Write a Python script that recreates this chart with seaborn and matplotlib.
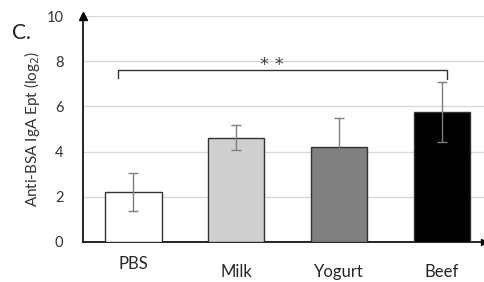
import matplotlib.pyplot as plt
import matplotlib.transforms as mtransforms
import seaborn as sns

groups = ["PBS", "Milk", "Yogurt", "Beef"]
means = [2.2, 4.62, 4.2, 5.77]
sds = [0.85, 0.55, 1.3, 1.33]
bar_colors = ["#ffffff", "#d0cfd0", "#808080", "#000000"]

sns.set_theme(style="white")
plt.rcParams["font.family"] = ["Lato", "DejaVu Sans"]

fig = plt.figure(figsize=(4.85, 2.82), dpi=100)
ax = fig.add_axes([0.171, 0.142, 0.827, 0.801])

sns.barplot(x=groups, y=means, hue=groups, palette=bar_colors, legend=False,
            width=0.55, edgecolor="#333333", linewidth=1.0, ax=ax, zorder=3)
ax.errorbar(range(len(groups)), means, yerr=sds, fmt="none", ecolor="#7f7f7f",
            elinewidth=1.0, capsize=3.5, capthick=1.0, zorder=4)

ax.set_ylim(0, 10)
ax.set_xlim(-0.49, 3.41)
ax.set_yticks([0, 2, 4, 6, 8, 10])
ax.yaxis.grid(True, color="#d9d9d9", linewidth=1.0, zorder=0)
ax.set_axisbelow(True)
ax.tick_params(axis="both", length=0)
ax.tick_params(axis="y", labelsize=10.5, pad=14, colors="#333333")
ax.tick_params(axis="x", labelsize=12, pad=16)
ax.set_xlabel("")
ax.set_ylabel("Anti-BSA IgA Ept (log$_2$)", fontsize=11, color="#333333", labelpad=3)

# PBS label sits a bit higher than the others
pbs = ax.get_xticklabels()[0]
pbs.set_transform(pbs.get_transform() + mtransforms.ScaledTranslation(0, 6 / 72, fig.dpi_scale_trans))

for s in ["top", "right"]:
    ax.spines[s].set_visible(False)
for s in ["left", "bottom"]:
    ax.spines[s].set_color("black")
    ax.spines[s].set_linewidth(1.2)

# axis arrows
ax.plot(0, 1.0, marker="^", color="black", markersize=6, transform=ax.transAxes, clip_on=False)
ax.plot(1.0, 0, marker=">", color="black", markersize=5, transform=ax.transAxes, clip_on=False)

# significance bracket PBS vs Beef
ax.plot([-0.15, -0.15, 3.05, 3.05], [7.25, 7.6, 7.6, 7.2], color="#333333", linewidth=1.0, zorder=5)
ax.text(1.35, 7.85, "* *", ha="center", va="center", fontsize=13,
        family="DejaVu Sans", color="#444444")

fig.text(0.025, 0.86, "C.", fontsize=15, color="#222222")

fig.savefig("out.png", dpi=100)
